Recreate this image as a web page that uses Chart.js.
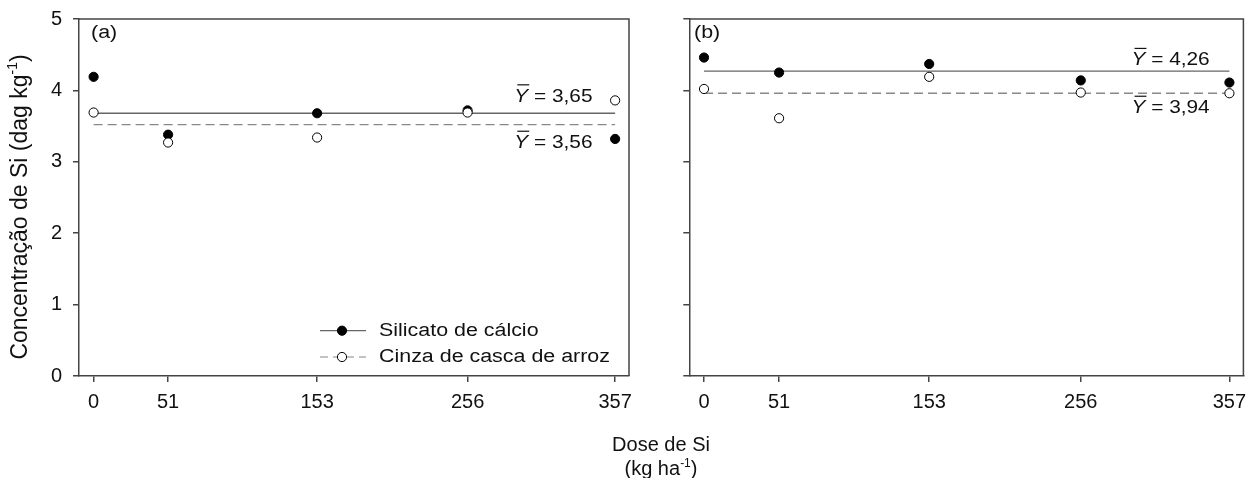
<!DOCTYPE html>
<html>
<head>
<meta charset="utf-8">
<script src="https://cdn.jsdelivr.net/npm/chart.js@4.4.0/dist/chart.umd.min.js"></script>
<style>
body { margin: 0; background: #fff; width: 1249px; height: 478px; overflow: hidden; position: relative;
       font-family: "Liberation Sans", Arial, sans-serif; color: #111; }
#boxA { position: absolute; left: 0; top: 0; width: 640px; height: 478px; }
#boxB { position: absolute; left: 640px; top: 0; width: 609px; height: 478px; }
.xt { position: absolute; left: 561px; width: 200px; text-align: center; font-size: 20px; line-height: 24px; }
.xt sup { font-size: 12px; line-height: 0; vertical-align: 8px; }
</style>
</head>
<body>
<div id="boxA"><canvas id="chartA"></canvas></div>
<div id="boxB"><canvas id="chartB"></canvas></div>
<div class="xt" style="top:432px">Dose de Si</div>
<div class="xt" style="top:456px">(kg ha<sup>-1</sup>)</div>

<script>
// doses (kg/ha) and y ticks
const doses = [0, 51, 153, 256, 357];
const yTicks = [0, 1, 2, 3, 4, 5];

// panel (a)
const silicatoA = [4.19, 3.38, 3.68, 3.72, 3.32];
const cinzaA = [3.69, 3.27, 3.34, 3.69, 3.86];
const meanA = [3.68, 3.52];
const meanTextA = ['3,65', '3,56'];

// panel (b)
const silicatoB = [4.46, 4.25, 4.37, 4.14, 4.11];
const cinzaB = [4.02, 3.61, 4.19, 3.97, 3.96];
const meanB = [4.27, 3.96];
const meanTextB = ['4,26', '3,94'];

const legendNames = ['Silicato de cálcio', 'Cinza de casca de arroz'];

const FONT = '"Liberation Sans", Arial, sans-serif';
const axisColor = '#444';
const SX = 1.19; // the original text looks a bit wide

Chart.defaults.font.family = FONT;
Chart.defaults.color = '#111';

function pts(vals) {
    return doses.map((d, i) => ({ x: d, y: vals[i] }));
}

// write text stretched sideways, returns its drawn width
function wideText(ctx, txt, x, y) {
    ctx.save();
    ctx.translate(x, y);
    ctx.scale(SX, 1);
    ctx.fillText(txt, 0, 0);
    ctx.restore();
    return ctx.measureText(txt).width * SX;
}

// top and right border of the box
const frame = {
    id: 'frame',
    afterDatasetsDraw(chart) {
        const a = chart.chartArea, ctx = chart.ctx;
        ctx.save();
        ctx.strokeStyle = axisColor;
        ctx.lineWidth = 1.5;
        ctx.beginPath();
        ctx.moveTo(a.left, a.top);
        ctx.lineTo(a.right, a.top);
        ctx.lineTo(a.right, a.bottom);
        ctx.stroke();
        ctx.restore();
    }
};

// Y-bar label: italic Y with overbar then " = value"
function meanLabel(ctx, x, y, txt) {
    ctx.textBaseline = 'middle';
    ctx.textAlign = 'left';
    ctx.font = 'italic 17.5px ' + FONT;
    let w = wideText(ctx, 'Y', x, y);
    ctx.lineWidth = 1.2;
    ctx.strokeStyle = '#111';
    ctx.beginPath();
    ctx.moveTo(x + 3, y - 12);
    ctx.lineTo(x + w + 1, y - 12);
    ctx.stroke();
    ctx.font = '17.5px ' + FONT;
    wideText(ctx, ' = ' + txt, x + w, y);
}

function makeNotes(panel, labelLeft, means, texts, labelX, labelY) {
    return {
        id: 'notes' + panel,
        afterDraw(chart) {
            const ctx = chart.ctx, xs = chart.scales.x, ys = chart.scales.y;
            ctx.save();
            ctx.fillStyle = '#111';
            ctx.font = '18px ' + FONT;
            ctx.textBaseline = 'middle';
            wideText(ctx, '(' + panel + ')', labelLeft, 33);
            meanLabel(ctx, xs.getPixelForValue(labelX), ys.getPixelForValue(labelY[0]), texts[0]);
            meanLabel(ctx, xs.getPixelForValue(labelX), ys.getPixelForValue(labelY[1]), texts[1]);
            ctx.restore();
        }
    };
}

// legend inside panel (a)
const legendBox = {
    id: 'legendBox',
    afterDraw(chart) {
        const ctx = chart.ctx;
        const rows = [330.7, 357];
        ctx.save();
        rows.forEach((y, i) => {
            ctx.strokeStyle = i === 0 ? '#666' : '#888';
            ctx.lineWidth = 1.2;
            ctx.setLineDash(i === 0 ? [] : [8, 5]);
            ctx.beginPath();
            ctx.moveTo(320, y);
            ctx.lineTo(366, y);
            ctx.stroke();
            ctx.setLineDash([]);
            ctx.beginPath();
            ctx.arc(342, y, 4.6, 0, Math.PI * 2);
            ctx.fillStyle = i === 0 ? '#000' : '#fff';
            ctx.fill();
            ctx.strokeStyle = '#000';
            ctx.lineWidth = 1;
            ctx.stroke();
            ctx.fillStyle = '#111';
            ctx.font = '18px ' + FONT;
            ctx.textBaseline = 'middle';
            wideText(ctx, legendNames[i], 379, y);
        });
        ctx.restore();
    }
};

// rotated y title with superscript
const yTitle = {
    id: 'yTitle',
    afterDraw(chart) {
        const ctx = chart.ctx;
        const main = 'Concentração de Si (dag kg';
        const sup = '-1';
        const end = ')';
        ctx.save();
        ctx.translate(21, 207);
        ctx.rotate(-Math.PI / 2);
        ctx.fillStyle = '#111';
        ctx.textBaseline = 'middle';
        ctx.font = '23px ' + FONT;
        let w1 = ctx.measureText(main).width;
        let w3 = ctx.measureText(end).width;
        ctx.font = '14px ' + FONT;
        let w2 = ctx.measureText(sup).width;
        let x = -(w1 + w2 + w3) / 2;
        ctx.font = '23px ' + FONT;
        ctx.fillText(main, x, 0);
        ctx.font = '14px ' + FONT;
        ctx.fillText(sup, x + w1, -8);
        ctx.font = '23px ' + FONT;
        ctx.fillText(end, x + w1 + w2, 0);
        ctx.restore();
    }
};

function makeChart(id, silicato, cinza, means, yWidth, padRight, showY, plugins) {
    return new Chart(document.getElementById(id), {
        type: 'scatter',
        data: {
            datasets: [
                { label: legendNames[0], data: pts(silicato), pointRadius: 4.6, backgroundColor: '#000',
                  borderColor: '#000', borderWidth: 1, order: 1 },
                { label: legendNames[1], data: pts(cinza), pointRadius: 4.6, backgroundColor: '#fff',
                  borderColor: '#000', borderWidth: 1, order: 0 },
                { data: [{ x: doses[0], y: means[0] }, { x: doses[doses.length - 1], y: means[0] }],
                  showLine: true, pointRadius: 0, borderColor: '#666', borderWidth: 1.3, order: 2 },
                { data: [{ x: doses[0], y: means[1] }, { x: doses[doses.length - 1], y: means[1] }],
                  showLine: true, pointRadius: 0, borderColor: '#888', borderWidth: 1.3,
                  borderDash: [9, 5], order: 2 }
            ]
        },
        options: {
            responsive: true,
            maintainAspectRatio: false,
            animation: false,
            layout: { padding: { left: 0, right: padRight, top: 19, bottom: 0 } },
            plugins: { legend: { display: false }, tooltip: { enabled: false } },
            scales: {
                x: {
                    type: 'linear', min: -10, max: 366.5,
                    afterBuildTicks: s => { s.ticks = doses.map(v => ({ value: v })); },
                    afterFit: s => { s.height = 102; s.paddingLeft = 0; s.paddingRight = 0; },
                    ticks: { font: { size: 20 }, color: '#111', padding: 8, maxRotation: 0, autoSkip: false },
                    grid: { drawOnChartArea: false, drawTicks: true, tickLength: 6, color: axisColor, lineWidth: 1.5 },
                    border: { color: axisColor, width: 1.5 }
                },
                y: {
                    min: 0, max: 5,
                    afterBuildTicks: s => { s.ticks = yTicks.map(v => ({ value: v })); },
                    afterFit: s => { s.width = yWidth; s.paddingTop = 0; s.paddingBottom = 0; },
                    ticks: { font: { size: 20 }, color: '#111', padding: 11,
                             callback: v => showY ? String(v) : '' },
                    grid: { drawOnChartArea: false, drawTicks: true, tickLength: 6, color: axisColor, lineWidth: 1.5 },
                    border: { color: axisColor, width: 1.5 }
                }
            }
        },
        plugins: [frame].concat(plugins)
    });
}

makeChart('chartA', silicatoA, cinzaA, meanA, 79, 11, true,
    [makeNotes('a', 91, meanA, meanTextA, 288, [3.91, 3.26]), legendBox, yTitle]);
makeChart('chartB', silicatoB, cinzaB, meanB, 49.3, 5, false,
    [makeNotes('b', 54, meanB, meanTextB, 290.5, [4.42, 3.75])]);
</script>
</body>
</html>
